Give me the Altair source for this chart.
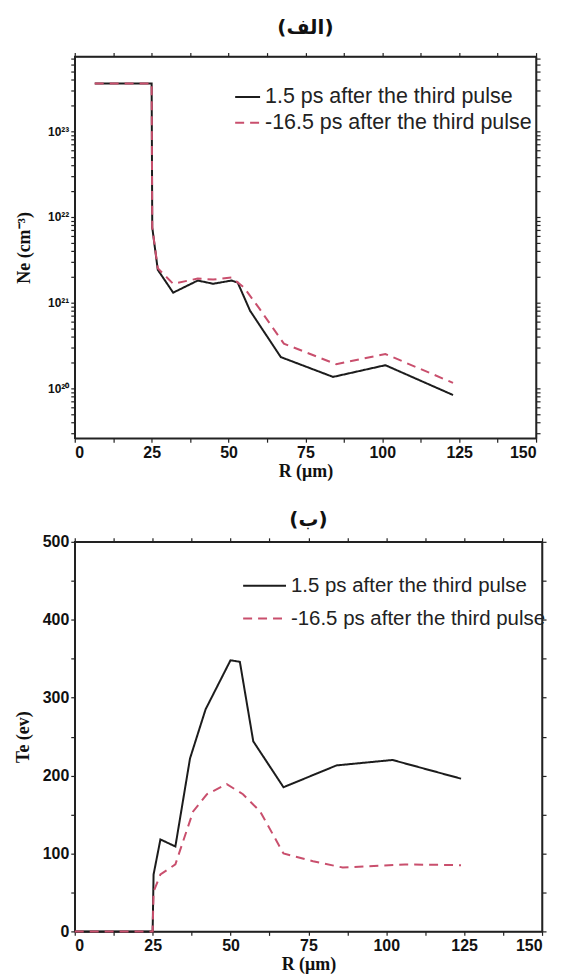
import altair as alt
import pandas as pd

S1 = "1.5 ps after the third pulse"
S2 = "-16.5 ps after the third pulse"

# Panel (الف): electron density
ne_r_solid = [6.5, 25, 25.2, 27, 32, 40, 45, 51, 53, 57, 67, 84, 101, 123]
ne_solid = [3.6e23, 3.6e23, 7.5e21, 2.4e21, 1.3e21, 1.8e21, 1.65e21, 1.8e21, 1.7e21, 8e20, 2.3e20, 1.35e20, 1.85e20, 8.3e19]
ne_r_dash = [6.5, 25, 25.2, 27, 32, 40, 45, 51, 55, 60, 68, 85, 101, 123]
ne_dash = [3.6e23, 3.6e23, 7.5e21, 2.5e21, 1.65e21, 1.9e21, 1.85e21, 1.95e21, 1.5e21, 8.5e20, 3.3e20, 1.9e20, 2.5e20, 1.15e20]

# Panel (ب): electron temperature
te_r_solid = [0, 25, 25.3, 27.5, 32.3, 37, 42, 50, 53, 57.3, 67, 84, 102, 124]
te_solid = [0, 0, 73, 118, 109, 222, 285, 348, 346, 244, 185, 213, 220, 196]
te_r_dash = [0, 25, 25.3, 27.5, 32.3, 38, 42.4, 48.8, 54, 59.5, 67, 76.5, 86, 106, 124]
te_dash = [0, 0, 51, 73, 86, 154, 176, 189, 176, 154, 100, 90, 82, 86, 85]

x_ticks = [0, 12.5, 25, 37.5, 50, 62.5, 75, 87.5, 100, 112.5, 125, 137.5, 150]
ne_ticks = [m * 10 ** e for e in range(19, 24) for m in range(1, 10) if 2.6e19 <= m * 10 ** e <= 7.4e23]
te_ticks = [0, 50, 100, 150, 200, 250, 300, 350, 400, 450, 500]


def frame(rs, vs, series):
    return pd.DataFrame({"R": rs, "v": vs, "series": series, "i": list(range(len(rs)))})


ne_df = pd.concat([frame(ne_r_solid, ne_solid, S1), frame(ne_r_dash, ne_dash, S2)])
te_df = pd.concat([frame(te_r_solid, te_solid, S1), frame(te_r_dash, te_dash, S2)])

color_scale = alt.Scale(domain=[S1, S2], range=["#1c1c1c", "#c94f6d"])
dash_scale = alt.Scale(domain=[S1, S2], range=[[1, 0], [9, 6]])

lab_font = "Liberation Sans"
tit_font = "Liberation Serif"


def panel(df, title, title_offset, y_scale, y_axis, y_ticks_right, w, h,
          leg_y, leg_x, sym_size, row_pad, leg_font):
    x_scale = alt.Scale(domain=[0, 150], nice=False)
    legend = alt.Legend(
        title=None, orient="none", legendX=leg_x, legendY=leg_y,
        symbolType="stroke", symbolSize=sym_size, symbolStrokeWidth=2,
        labelFont=lab_font, labelFontSize=leg_font, labelColor="#222",
        labelOffset=4, rowPadding=row_pad, labelLimit=400,
    )
    lines = alt.Chart(df).mark_line(strokeWidth=2).encode(
        x=alt.X("R:Q", scale=x_scale, axis=alt.Axis(
            values=x_ticks, labelExpr="datum.value % 25 == 0 ? datum.label : ''",
            title="R (μm)", tickSize=4, labelPadding=2, titlePadding=2)),
        y=alt.Y("v:Q", scale=y_scale, axis=y_axis),
        color=alt.Color("series:N", scale=color_scale, legend=legend),
        strokeDash=alt.StrokeDash("series:N", scale=dash_scale, legend=legend),
        order=alt.Order("i:Q"),
    )
    mirror = alt.Chart(df).mark_line(opacity=0).encode(
        x=alt.X("R:Q", scale=x_scale, axis=alt.Axis(
            orient="top", values=x_ticks, labels=False, title=None, tickSize=4)),
        y=alt.Y("v:Q", scale=y_scale, axis=alt.Axis(
            orient="right", values=y_ticks_right, labels=False, title=None, tickSize=4)),
        detail="series:N",
        order=alt.Order("i:Q"),
    )
    return alt.layer(lines, mirror).resolve_axis(x="independent", y="independent").properties(
        width=w, height=h,
        title=alt.TitleParams(title, font="DejaVu Sans", fontSize=20, fontWeight="bold",
                              anchor="middle", offset=title_offset, color="#111"),
    )


ne_axis = alt.Axis(
    values=ne_ticks,
    labelExpr="datum.value == 1e20 ? '10²⁰' : datum.value == 1e21 ? '10²¹' : datum.value == 1e22 ? '10²²' : datum.value == 1e23 ? '10²³' : ''",
    title="Ne (cm⁻³)", tickSize=4, labelPadding=2, titlePadding=14, labelFontSize=12,
)
te_axis = alt.Axis(values=te_ticks, labelExpr="datum.value % 100 == 0 ? datum.label : ''",
                   title="Te (ev)", tickSize=4, labelPadding=2, titlePadding=10)

top = panel(ne_df, "(الف)", 14,
            alt.Scale(type="log", domain=[2.6e19, 7.4e23], nice=False),
            ne_axis, ne_ticks, 463, 383, 27, 160, 625, 2, 21.5)
bottom = panel(te_df, "(ب)", 4,
               alt.Scale(domain=[0, 500], nice=False),
               te_axis, te_ticks, 469, 391, 21.5, 168, 1849, -10, 20.5)

chart = alt.vconcat(top, bottom, spacing=28).resolve_legend(
    color="independent", strokeDash="independent"
).resolve_scale(y="independent").properties(
    padding={"left": 5, "top": 7, "right": 5, "bottom": 0},
).configure_view(stroke="#222", strokeWidth=1.5).configure_axis(
    labelFont=lab_font, labelFontWeight="bold", labelFontSize=16, labelColor="#111",
    titleFont=tit_font, titleFontWeight="bold", titleFontSize=18, titleColor="#111",
    domainColor="#222", domainWidth=1.5, tickColor="#222", tickWidth=1.2, grid=False,
)

chart.save("out.html", embed_options={"renderer": "svg", "actions": False})
